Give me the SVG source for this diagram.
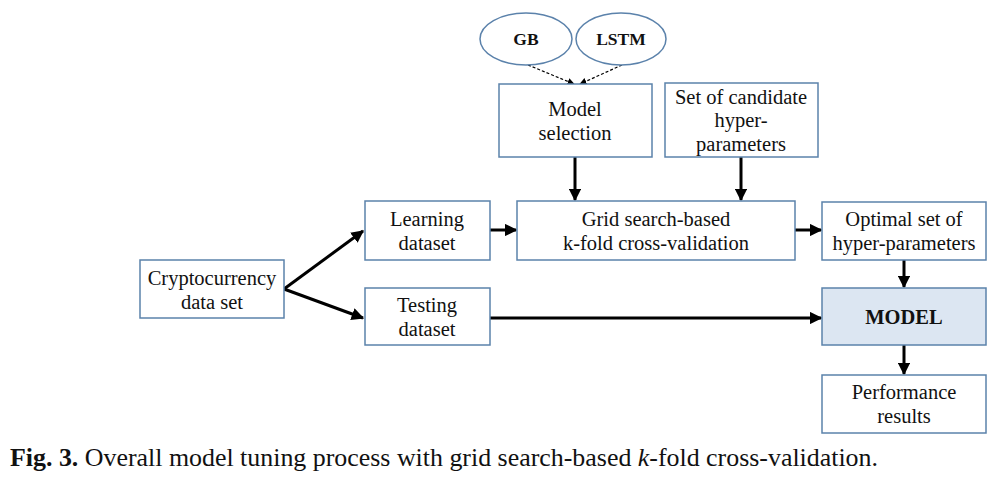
<svg xmlns="http://www.w3.org/2000/svg" width="1006" height="477" viewBox="0 0 1006 477">
<style>
.box{fill:#fff;stroke:#5b82ab;stroke-width:1.5}
.t{font-family:"Liberation Serif",serif;font-size:20.5px;fill:#111;text-anchor:middle}
.b{font-weight:bold}
.c{stroke:#000;stroke-width:3;fill:none;marker-end:url(#ah)}
.d{stroke:#000;stroke-width:1.2;fill:none;stroke-dasharray:3,2;marker-end:url(#dh)}
</style>
<defs>
<marker id="ah" viewBox="0 0 10 10" refX="9" refY="5" markerWidth="4.2" markerHeight="4.2" orient="auto" markerUnits="strokeWidth"><path d="M0,0L10,5L0,10z" fill="#000"/></marker>
<marker id="dh" viewBox="0 0 10 10" refX="9" refY="5" markerWidth="6" markerHeight="6" orient="auto" markerUnits="strokeWidth"><path d="M0,0L10,5L0,10z" fill="#000"/></marker>
</defs>
<rect width="1006" height="477" fill="#fff"/>
<g id="connectors">
<path class="d" d="M528,65L574,84"/>
<path class="d" d="M622,65L580,84"/>
<path class="c" d="M575,157V200"/>
<path class="c" d="M741,157V200"/>
<path class="c" d="M284,289L363,231"/>
<path class="c" d="M284,289L363,318"/>
<path class="c" d="M490,230H516"/>
<path class="c" d="M795,230H821"/>
<path class="c" d="M904,260V287"/>
<path class="c" d="M490,318H821"/>
<path class="c" d="M904,345V374"/>
</g>
<g id="gb"><ellipse class="box" cx="526" cy="39" rx="46" ry="26"/><text class="t b" x="526" y="45" style="font-size:17.5px">GB</text></g>
<g id="lstm"><ellipse class="box" cx="621" cy="39" rx="45" ry="26"/><text class="t b" x="621" y="45" style="font-size:17.5px">LSTM</text></g>
<g id="model-selection"><rect class="box" x="499" y="84" width="153" height="73"/><text class="t" x="575" y="116">Model</text><text class="t" x="575" y="140">selection</text></g>
<g id="candidates"><rect class="box" x="665" y="83" width="153" height="74"/><text class="t" x="741" y="104">Set of candidate</text><text class="t" x="741" y="127">hyper-</text><text class="t" x="741" y="151">parameters</text></g>
<g id="crypto"><rect class="box" x="140" y="260" width="144" height="58"/><text class="t" x="212" y="285">Cryptocurrency</text><text class="t" x="212" y="309">data set</text></g>
<g id="learning"><rect class="box" x="365" y="201" width="125" height="59"/><text class="t" x="427" y="226">Learning</text><text class="t" x="427" y="250">dataset</text></g>
<g id="grid"><rect class="box" x="517" y="201" width="278" height="59"/><text class="t" x="656" y="226">Grid search-based</text><text class="t" x="656" y="250">k-fold cross-validation</text></g>
<g id="optimal"><rect class="box" x="822" y="202" width="164" height="58"/><text class="t" x="904" y="226">Optimal set of</text><text class="t" x="904" y="250">hyper-parameters</text></g>
<g id="testing"><rect class="box" x="365" y="288" width="125" height="57"/><text class="t" x="427" y="312">Testing</text><text class="t" x="427" y="336">dataset</text></g>
<g id="model"><rect class="box" x="822" y="288" width="164" height="57" style="fill:#dce6f2"/><text class="t b" x="904" y="324">MODEL</text></g>
<g id="performance"><rect class="box" x="822" y="375" width="164" height="58"/><text class="t" x="904" y="399">Performance</text><text class="t" x="904" y="423">results</text></g>
<text x="10" y="466" textLength="868" lengthAdjust="spacingAndGlyphs" style="font-family:'Liberation Serif',serif;font-size:25px;fill:#111"><tspan font-weight="bold">Fig. 3.</tspan> Overall model tuning process with grid search-based <tspan font-style="italic">k</tspan>-fold cross-validation.</text>
</svg>
